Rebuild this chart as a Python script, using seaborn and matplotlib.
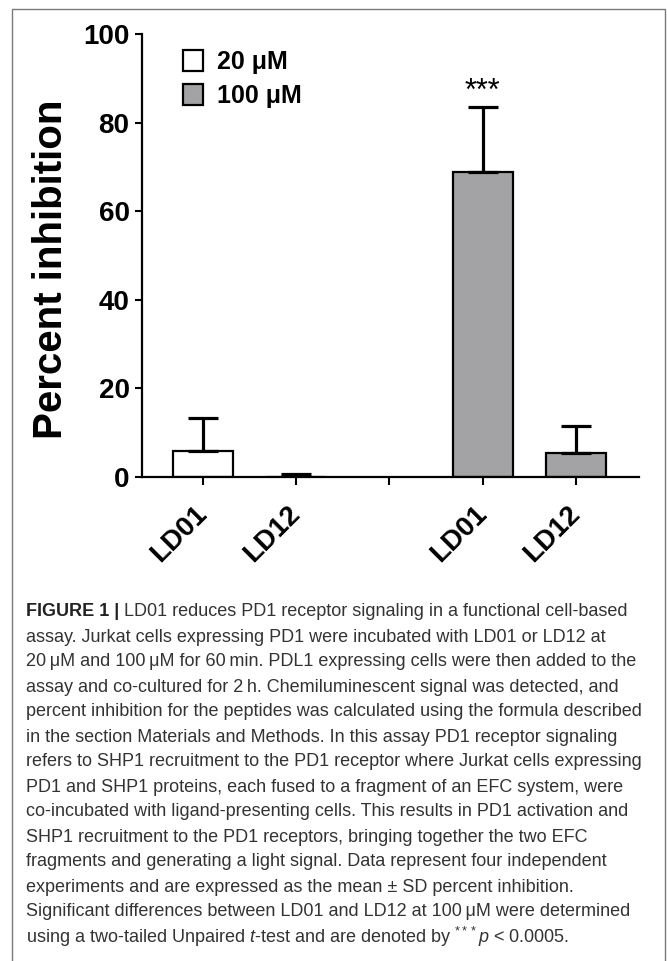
import numpy as np
import pandas as pd

import seaborn as sns
import matplotlib
matplotlib.use('Agg')
import matplotlib.pyplot as plt
from matplotlib.patches import Rectangle

# values (mean and SD percent inhibition)
compounds = ['LD01', 'LD12', 'LD01', 'LD12']
concentration = ['20 μM', '20 μM', '100 μM', '100 μM']
mean_inhibition = [5.9, 0.1, 68.9, 5.4]
sd_inhibition = [7.4, 0.6, 14.6, 6.1]
slot_order = ['20 LD01', '20 LD12', 'gap', '100 LD01', '100 LD12']
slots = ['20 LD01', '20 LD12', '100 LD01', '100 LD12']
conc_levels = ['20 μM', '100 μM']
y_ticks = [0, 20, 40, 60, 80, 100]

caption_lines = [
    'LD01 reduces PD1 receptor signaling in a functional cell-based',
    'assay. Jurkat cells expressing PD1 were incubated with LD01 or LD12 at',
    '20\u2009μM and 100\u2009μM for 60\u2009min. PDL1 expressing cells were then added to the',
    'assay and co-cultured for 2\u2009h. Chemiluminescent signal was detected, and',
    'percent inhibition for the peptides was calculated using the formula described',
    'in the section Materials and Methods. In this assay PD1 receptor signaling',
    'refers to SHP1 recruitment to the PD1 receptor where Jurkat cells expressing',
    'PD1 and SHP1 proteins, each fused to a fragment of an EFC system, were',
    'co-incubated with ligand-presenting cells. This results in PD1 activation and',
    'SHP1 recruitment to the PD1 receptors, bringing together the two EFC',
    'fragments and generating a light signal. Data represent four independent',
    'experiments and are expressed as the mean ± SD percent inhibition.',
    'Significant differences between LD01 and LD12 at 100\u2009μM were determined',
    r'using a two-tailed Unpaired $\mathit{t}$-test and are denoted by $^{***}\mathit{p}$ < 0.0005.',
]


def make_figure():
    '''draw the bar chart and the caption block, save to out.png'''

    sns.set_style('ticks')
    plt.rcParams['font.family'] = ['Liberation Sans', 'DejaVu Sans']
    plt.rcParams['mathtext.fontset'] = 'custom'
    plt.rcParams['mathtext.rm'] = 'Liberation Sans'
    plt.rcParams['mathtext.it'] = 'Liberation Sans:italic'
    for k in ['text.color', 'axes.labelcolor', 'xtick.color', 'ytick.color', 'axes.edgecolor']:
        plt.rcParams[k] = 'black'

    df = pd.DataFrame({'slot': slots, 'compound': compounds, 'conc': concentration,
                       'mean': mean_inhibition, 'sd': sd_inhibition})

    fig = plt.figure(figsize=(6.67, 9.61), dpi=100)
    ax = fig.add_axes([142/667, 1-477/961, 497/667, 443/961])

    palette = {'20 μM': 'white', '100 μM': '#a3a2a7'}
    sns.barplot(data=df, x='slot', y='mean', hue='conc', order=slot_order, hue_order=conc_levels,
                palette=palette, dodge=False, width=0.64, edgecolor='black', linewidth=1.6,
                errorbar=None, ax=ax)

    # one sided error bars (mean + SD)
    pos = np.array([slot_order.index(s) for s in df['slot']])
    ax.errorbar(pos, df['mean'], yerr=[np.zeros(len(df)), df['sd']], fmt='none',
                ecolor='black', elinewidth=2.3, capsize=11, capthick=2.3, zorder=1)

    ax.text(slot_order.index('100 LD01'), df['mean'][2]+df['sd'][2], '***',
            ha='center', va='bottom', fontsize=22)

    ax.set_xlim(-0.654, 4.676)
    ax.set_ylim(0, 100)
    ax.set_yticks(y_ticks)
    ax.set_yticklabels([str(t) for t in y_ticks], fontsize=20, fontweight='bold')
    ax.set_xticks(range(len(slot_order)))
    labels = [df.set_index('slot')['compound'].get(s, '') for s in slot_order]
    ax.set_xticklabels(labels, fontsize=20, fontweight='bold', rotation=45,
                       ha='right', va='center', rotation_mode='anchor')
    ax.tick_params(axis='y', length=5, width=1.5, pad=4)
    ax.tick_params(axis='x', length=6, width=1.5, pad=18)
    for s in ['left', 'bottom']:
        ax.spines[s].set_linewidth(1.6)
    sns.despine(ax=ax)
    ax.set_xlabel('')
    ax.set_ylabel('Percent inhibition', fontsize=29, fontweight='bold')
    ax.yaxis.set_label_coords(-0.145, 0.47)

    handles, lbls = ax.get_legend_handles_labels()
    leg = ax.legend(handles, lbls, loc='upper left', bbox_to_anchor=(0.0825, 0.964), frameon=False,
                    fontsize=18, handlelength=0.8, handleheight=0.92, labelspacing=0.38,
                    handletextpad=0.55, borderpad=0, borderaxespad=0)
    for t in leg.get_texts():
        t.set_fontweight('bold')

    # frame around the panel, open at the bottom
    fig.add_artist(Rectangle((12/667, -0.02), 653/667, 1.02-9/961, transform=fig.transFigure,
                             fill=False, edgecolor='#7a7a7a', linewidth=1.0))

    # caption
    renderer = fig.canvas.get_renderer()
    x0 = 26/667
    for i, line in enumerate(caption_lines):
        y = 1 - (612 + 25*i)/961
        x = x0
        if i == 0:
            head = fig.text(x0, y, 'FIGURE 1 | ', fontsize=13, fontweight='bold',
                            color='#222222', va='center')
            bb = head.get_window_extent(renderer)
            x = bb.x1/fig.bbox.width
        fig.text(x, y, line, fontsize=13, color='#333333', va='center')

    fig.savefig('out.png', dpi=100)


if __name__ == '__main__':
    make_figure()
